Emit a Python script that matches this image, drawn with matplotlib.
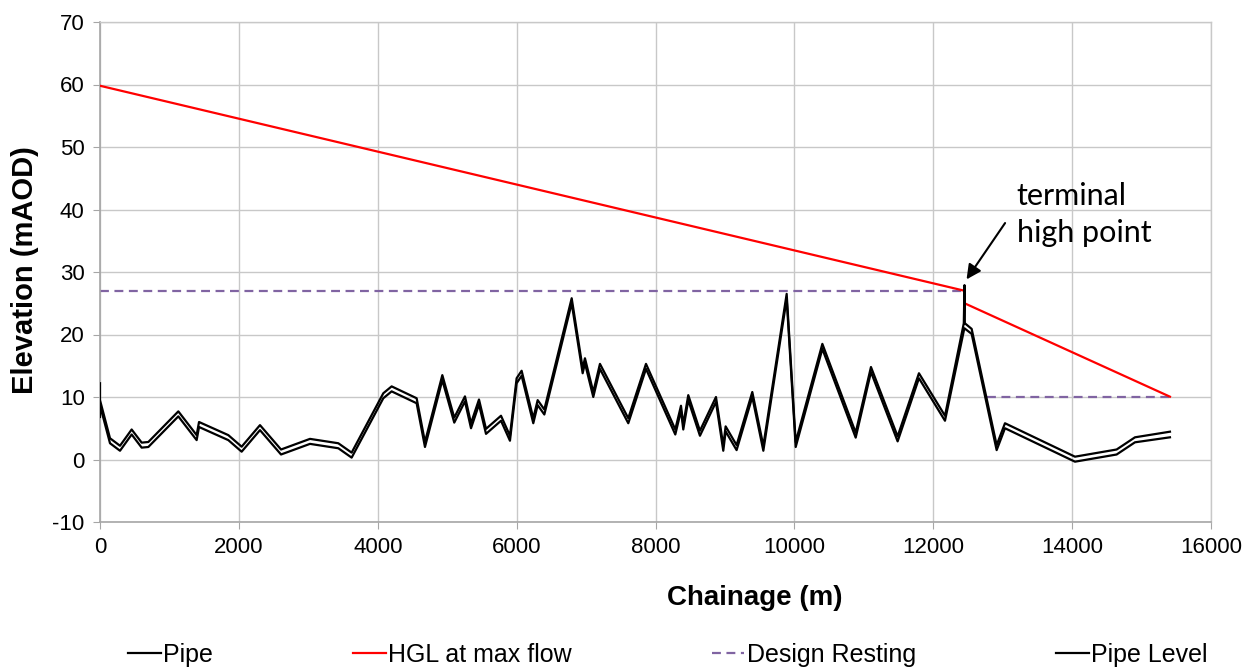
import numpy as np
import matplotlib
matplotlib.use("Agg")
import matplotlib.pyplot as plt

# ---------------- data ----------------
pipe_chainage = [0, 0, 144, 288, 456, 600, 696, 1128, 1392, 1426, 1848, 2040, 2304, 2607,
                 3024, 3432, 3624, 4080, 4200, 4560, 4680, 4930, 5102, 5256, 5343, 5458,
                 5559, 5775, 5904, 6000, 6072, 6240, 6303, 6399, 6793, 6951, 6984, 7104,
                 7200, 7608, 7863, 8285, 8367, 8400, 8472, 8640, 8871, 8976, 9010, 9168,
                 9394, 9553, 9889, 10019, 10403, 10883, 11103, 11487, 11794, 12169, 12440,
                 12450, 12455, 12553, 12913, 13033, 14041, 14641, 14905, 15409]
pipe_top = [12.2, 9.5, 3.4, 2.2, 4.8, 2.7, 2.8, 7.7, 3.9, 6.0, 3.9, 2.05, 5.5, 1.6,
            3.3, 2.6, 1.1, 10.6, 11.7, 9.8, 2.8, 13.5, 6.7, 10.1, 5.8, 9.6,
            4.9, 7.0, 3.8, 13.0, 14.2, 6.6, 9.5, 8.0, 25.8, 14.6, 16.2, 10.8,
            15.3, 6.6, 15.3, 4.8, 8.6, 5.6, 10.3, 4.6, 10.0, 2.2, 5.3, 2.3,
            10.8, 2.2, 26.5, 2.8, 18.5, 4.3, 14.8, 3.7, 13.8, 7.0, 21.8,
            27.9, 21.8, 20.9, 2.3, 5.8, 0.45, 1.6, 3.55, 4.45]

level_chainage = [0, 0, 144, 288, 456, 600, 696, 1128, 1392, 1426, 1848, 2040, 2304, 2607,
                  3024, 3432, 3624, 4080, 4200, 4560, 4680, 4930, 5102, 5256, 5343, 5458,
                  5559, 5775, 5904, 6000, 6072, 6240, 6303, 6399, 6793, 6951, 6984, 7104,
                  7200, 7608, 7863, 8285, 8367, 8400, 8472, 8640, 8871, 8976, 9010, 9168,
                  9394, 9553, 9889, 10019, 10403, 10883, 11103, 11487, 11794, 12169, 12448,
                  12553, 12913, 13033, 14041, 14641, 14905, 15409]
pipe_level = [6.8, 8.7, 2.6, 1.4, 4.0, 1.9, 2.0, 6.9, 3.1, 5.2, 3.1, 1.25, 4.7, 0.8,
              2.5, 1.8, 0.3, 9.8, 10.9, 9.0, 2.0, 12.7, 5.9, 9.3, 5.0, 8.8,
              4.1, 6.2, 3.0, 12.2, 13.4, 5.8, 8.7, 7.2, 25.0, 13.8, 15.4, 10.0,
              14.5, 5.8, 14.5, 4.0, 7.8, 4.8, 9.5, 3.8, 9.2, 1.4, 4.5, 1.5,
              10.0, 1.4, 25.7, 2.0, 17.7, 3.5, 14.0, 2.9, 13.0, 6.2, 21.0,
              20.1, 1.5, 5.0, -0.35, 0.8, 2.75, 3.55]

hgl_chainage = [0, 12450, 12450, 15409]
hgl_level = [59.8, 27.0, 25.0, 10.05]

design_chainage = [0, 12430, np.nan, 12770, 15409]
design_level = [27, 27, np.nan, 10, 10]

x_ticks = [0, 2000, 4000, 6000, 8000, 10000, 12000, 14000, 16000]
y_ticks = [-10, 0, 10, 20, 30, 40, 50, 60, 70]

annot_text = "terminal\nhigh point"
annot_tip = (12457, 28.45)
annot_tail = (13057, 38.2)
annot_pos = (13200, 44.4)

# ---------------- plot ----------------
plt.rcParams['font.family'] = ['Liberation Sans', 'DejaVu Sans']

fig = plt.figure(figsize=(12.54, 6.69), dpi=100)
ax = fig.add_axes([100/1254, 1-522/669, 1111/1254, 500/669])

lw = 1.6
l1, = ax.plot(pipe_chainage, pipe_top, color='black', lw=lw, label='Pipe', zorder=4)
l2, = ax.plot(hgl_chainage, hgl_level, color='#FF0000', lw=lw, label='HGL at max flow', zorder=3)
l3, = ax.plot(design_chainage, design_level, color='#8064A2', lw=lw, ls=(0, (4, 2.5)),
              label='Design Resting', zorder=2)
l4, = ax.plot(level_chainage, pipe_level, color='black', lw=lw, label='Pipe Level', zorder=4)

ax.set_xlim(0, 16000)
ax.set_ylim(-10, 70)
ax.set_xticks(x_ticks)
ax.set_yticks(y_ticks)
ax.set_xticklabels([str(t) for t in x_ticks], fontsize=16)
ax.set_yticklabels([str(t) for t in y_ticks], fontsize=16)
ax.grid(True, color='#C8C8C8', lw=1.0, zorder=0)
ax.set_axisbelow(True)
for s in ['top', 'right']:
    ax.spines[s].set_color('#C8C8C8')
    ax.spines[s].set_linewidth(1.0)
for s in ['left', 'bottom']:
    ax.spines[s].set_color('#A6A6A6')
    ax.spines[s].set_linewidth(1.2)
ax.tick_params(axis='both', direction='out', length=5, color='#A6A6A6', pad=6)

ax.set_xlabel('Chainage (m)', fontsize=20, fontweight='bold')
ax.xaxis.set_label_coords((755 - 100) / 1111, -(598 - 522) / 500)
ax.xaxis.label.set_va('center')
ax.set_ylabel('Elevation (mAOD)', fontsize=21, fontweight='bold')
ax.yaxis.set_label_coords(-(100 - 25) / 1111, (522 - 270) / 500)
ax.yaxis.label.set_va('center')

ax.annotate('', xy=annot_tip, xytext=annot_tail,
            arrowprops=dict(arrowstyle='-|>', color='black', lw=1.5, mutation_scale=22),
            zorder=6)
ax.text(annot_pos[0], annot_pos[1], annot_text, fontsize=22, family=['Lato', 'DejaVu Sans'],
        ha='left', va='top', linespacing=1.38, zorder=6)

leg = fig.legend(handles=[l1, l2, l3, l4], loc='center', bbox_to_anchor=(668/1254, 1-655/669),
                 ncol=4, frameon=False, fontsize=18, handlelength=1.3, handletextpad=0.1,
                 columnspacing=5.6)

fig.savefig('out.png', dpi=100)
